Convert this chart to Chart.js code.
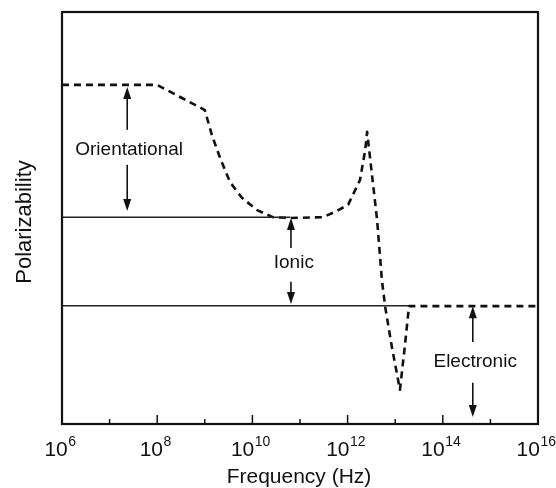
<!DOCTYPE html>
<html>
<head>
<meta charset="utf-8">
<script src="https://cdn.jsdelivr.net/npm/chart.js@4/dist/chart.umd.min.js"></script>
<style>
  html, body { margin: 0; padding: 0; background: #fff; }
  #wrap { width: 556px; height: 488px; }
</style>
</head>
<body>
<div id="wrap"><canvas id="c" width="556" height="488"></canvas></div>
<script>
// ---- data (x in log10 Hz, y in arbitrary polarizability units 0..10) ----
const curveLogFreq = [6, 8.0, 9.0, 9.15, 9.32, 9.53, 9.78, 10.10, 10.43, 10.8, 11.48, 11.74, 12.01, 12.26, 12.37, 12.41, 12.62, 12.72, 12.79, 12.93, 13.10, 13.21, 13.29, 16];
const curveValue   = [8.23, 8.23, 7.62, 7.01, 6.46, 5.87, 5.49, 5.19, 5.02, 5.0, 5.02, 5.15, 5.32, 5.92, 6.65, 7.09, 4.95, 3.50, 2.84, 1.87, 0.83, 1.97, 2.86, 2.86];

const ionicLineLogFreq = [6, 10.8];
const ionicLineValue   = [5.02, 5.02];
const electronicLineLogFreq = [6, 13.29];
const electronicLineValue   = [2.87, 2.87];

const arrowLogFreq = [7.37, 7.37, 10.81, 10.81, 14.63, 14.63];
const arrowFrom    = [7.14, 6.29, 4.27, 3.45, 1.99, 1.00];
const arrowTo      = [8.18, 5.17, 5.00, 2.91, 2.86, 0.17];

const labelText    = ['Orientational', 'Ionic', 'Electronic'];
const labelLogFreq = [7.41, 10.87, 14.68];
const labelValue   = [6.70, 3.96, 1.55];

const tickExponents = [6, 7, 8, 9, 10, 11, 12, 13, 14, 15, 16];
const xTitle = 'Frequency (Hz)';
const yTitle = 'Polarizability';

const toPts = (lx, ly) => lx.map((v, i) => ({ x: Math.pow(10, v), y: ly[i] }));

const INK = '#111';

const decor = {
  id: 'decor',
  afterDatasetsDraw(chart) {
    const ctx = chart.ctx;
    const a = chart.chartArea;
    const xs = chart.scales.x, ys = chart.scales.y;
    ctx.save();

    // arrows
    ctx.strokeStyle = INK; ctx.fillStyle = INK; ctx.lineWidth = 1.6;
    arrowLogFreq.forEach((lf, i) => {
      const px = xs.getPixelForValue(Math.pow(10, lf));
      const y0 = ys.getPixelForValue(arrowFrom[i]);
      const y1 = ys.getPixelForValue(arrowTo[i]);
      const dir = y1 < y0 ? -1 : 1;
      const head = 12, hw = 4;
      ctx.beginPath();
      ctx.moveTo(px, y0);
      ctx.lineTo(px, y1 - dir * head + dir * 1);
      ctx.stroke();
      ctx.beginPath();
      ctx.moveTo(px, y1);
      ctx.lineTo(px - hw, y1 - dir * head);
      ctx.lineTo(px + hw, y1 - dir * head);
      ctx.closePath();
      ctx.fill();
    });

    // region labels
    ctx.font = '19px "Liberation Sans", Arial, sans-serif';
    ctx.textAlign = 'center';
    ctx.textBaseline = 'alphabetic';
    labelText.forEach((t, i) => {
      const px = xs.getPixelForValue(Math.pow(10, labelLogFreq[i]));
      const py = ys.getPixelForValue(labelValue[i]);
      ctx.fillText(t, px, py + 7);
    });

    // frame
    ctx.lineWidth = 2.2;
    ctx.strokeStyle = INK;
    ctx.strokeRect(a.left, a.top, a.right - a.left, a.bottom - a.top);

    // bottom ticks (inward) and labels
    ctx.lineWidth = 1.5;
    tickExponents.forEach(e => {
      const px = xs.getPixelForValue(Math.pow(10, e));
      const major = e % 2 === 0;
      const len = major ? 9 : 5;
      ctx.beginPath();
      ctx.moveTo(px, a.bottom);
      ctx.lineTo(px, a.bottom - len);
      ctx.stroke();
      if (major) {
        const base = '10', sup = String(e);
        ctx.font = '21px "Liberation Sans", Arial, sans-serif';
        const wb = ctx.measureText(base).width;
        ctx.font = '14px "Liberation Sans", Arial, sans-serif';
        const ws = ctx.measureText(sup).width;
        const start = px - (wb + ws) / 2 - 2;
        ctx.textAlign = 'left';
        ctx.font = '21px "Liberation Sans", Arial, sans-serif';
        ctx.fillText(base, start, a.bottom + 32);
        ctx.font = '14px "Liberation Sans", Arial, sans-serif';
        ctx.fillText(sup, start + wb + 0.5, a.bottom + 22);
      }
    });

    // axis titles
    ctx.textAlign = 'center';
    ctx.font = '21px "Liberation Sans", Arial, sans-serif';
    ctx.fillText(xTitle, (a.left + a.right) / 2 - 1, a.bottom + 59);
    ctx.save();
    ctx.translate(31, (a.top + a.bottom) / 2 + 4);
    ctx.rotate(-Math.PI / 2);
    ctx.font = '22px "Liberation Sans", Arial, sans-serif';
    ctx.fillText(yTitle, 0, 0);
    ctx.restore();

    ctx.restore();
  }
};

new Chart(document.getElementById('c'), {
  type: 'line',
  data: {
    datasets: [
      {
        data: toPts(ionicLineLogFreq, ionicLineValue),
        borderColor: '#222', borderWidth: 1.5, pointRadius: 0, fill: false
      },
      {
        data: toPts(electronicLineLogFreq, electronicLineValue),
        borderColor: '#222', borderWidth: 1.5, pointRadius: 0, fill: false
      },
      {
        data: toPts(curveLogFreq, curveValue),
        borderColor: INK, borderWidth: 2.6, borderDash: [7, 5],
        borderJoinStyle: 'round', borderCapStyle: 'butt',
        pointRadius: 0, fill: false, tension: 0
      }
    ]
  },
  options: {
    responsive: false,
    animation: false,
    layout: { padding: { left: 62, top: 12, right: 18, bottom: 64 } },
    plugins: { legend: { display: false }, tooltip: { enabled: false } },
    scales: {
      x: { type: 'logarithmic', min: 1e6, max: 1e16, display: false },
      y: { type: 'linear', min: 0, max: 10, display: false }
    }
  },
  plugins: [decor]
});
</script>
</body>
</html>
